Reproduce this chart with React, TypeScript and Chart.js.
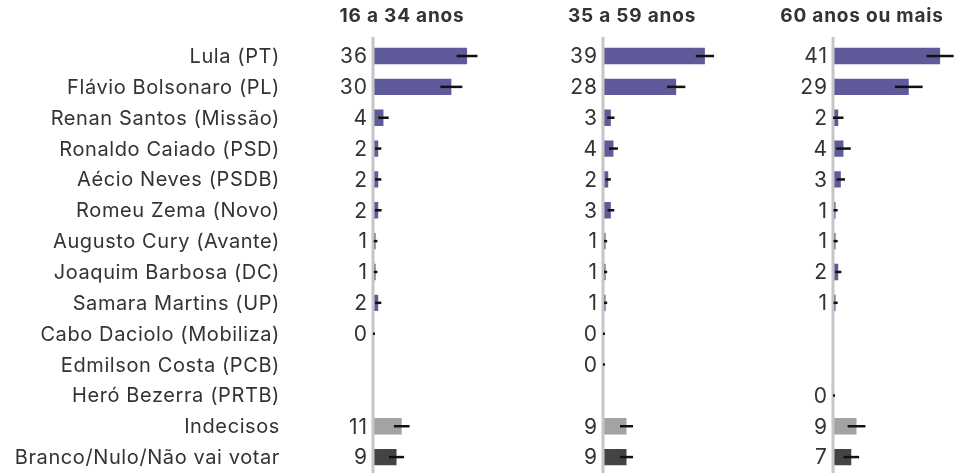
import React, { useEffect, useRef } from "react";
import { Chart, registerables } from "chart.js";

Chart.register(...registerables);

const candidates = [
  "Lula (PT)",
  "Flávio Bolsonaro (PL)",
  "Renan Santos (Missão)",
  "Ronaldo Caiado (PSD)",
  "Aécio Neves (PSDB)",
  "Romeu Zema (Novo)",
  "Augusto Cury (Avante)",
  "Joaquim Barbosa (DC)",
  "Samara Martins (UP)",
  "Cabo Daciolo (Mobiliza)",
  "Edmilson Costa (PCB)",
  "Heró Bezerra (PRTB)",
  "Indecisos",
  "Branco/Nulo/Não vai votar",
];

const panelTitles = ["16 a 34 anos", "35 a 59 anos", "60 anos ou mais"];

const values16to34 = [36, 30, 4, 2, 2, 2, 1, 1, 2, 0, null, null, 11, 9];
const values35to59 = [39, 28, 3, 4, 2, 3, 1, 1, 1, 0, 0, null, 9, 9];
const values60plus = [41, 29, 2, 4, 3, 1, 1, 2, 1, null, null, 0, 9, 7];

const margin16to34 = [4, 4.2, 2, 1.2, 1.2, 1.3, 0.7, 0.7, 1.2, 0.3, null, null, 3, 2.9];
const margin35to59 = [3.5, 3.5, 1.4, 1.7, 1, 1.3, 0.6, 0.6, 0.6, 0.3, 0.3, null, 2.5, 2.5];
const margin60plus = [5.2, 5.3, 2, 2.8, 1.6, 0.8, 0.8, 1.2, 0.8, null, null, 0.4, 3.4, 3];

const X_MAX = 46.7;
const PLOT_WIDTH = 122;
const H = 473;

const FONT = "Inter, 'Noto Sans', sans-serif";
const TEXT = "#333333";

function barColor(i: number) {
  if (i === 12) return "#a3a3a3";
  if (i === 13) return "#444444";
  return "#5f5b9b";
}

type PanelProps = {
  title: string;
  values: (number | null)[];
  margins: (number | null)[];
  left: number;
  zero: number;
  showLabels: boolean;
};

function Panel({ title, values, margins, left, zero, showLabels }: PanelProps) {
  const ref = useRef<HTMLCanvasElement | null>(null);
  const axisWidth = zero - left;
  const width = axisWidth + PLOT_WIDTH;

  useEffect(() => {
    if (!ref.current) return;
    const overlay = {
      id: "overlay",
      afterDatasetsDraw(chart: any) {
        const ctx = chart.ctx;
        const xs = chart.scales.x;
        const ys = chart.scales.y;
        const x0 = xs.getPixelForValue(0);
        ctx.save();
        // zero line
        ctx.strokeStyle = "#c6c6c6";
        ctx.lineWidth = 3;
        ctx.beginPath();
        ctx.moveTo(x0, 37);
        ctx.lineTo(x0, H);
        ctx.stroke();
        // error bars
        ctx.strokeStyle = "#111111";
        ctx.lineWidth = 2.5;
        values.forEach((v, i) => {
          const m = margins[i];
          if (v === null || m === null) return;
          const y = ys.getPixelForValue(i);
          const a = xs.getPixelForValue(Math.max(0, v - m));
          const b = xs.getPixelForValue(v + m);
          ctx.beginPath();
          ctx.moveTo(a, y);
          ctx.lineTo(Math.max(b, a + 2), y);
          ctx.stroke();
        });
        // value labels
        ctx.fillStyle = TEXT;
        ctx.font = `21px ${FONT}`;
        ctx.textAlign = "right";
        ctx.textBaseline = "middle";
        (ctx as any).letterSpacing = "1px";
        values.forEach((v, i) => {
          if (v === null) return;
          const y = ys.getPixelForValue(i);
          ctx.fillText(String(v), x0 - 5, y + 1);
        });
        // category labels
        if (showLabels) {
          ctx.font = `20px ${FONT}`;
          (ctx as any).letterSpacing = "0.6px";
          candidates.forEach((c, i) => {
            const y = ys.getPixelForValue(i);
            ctx.fillText(c, x0 - 93, y + 1);
          });
        }
        // title
        ctx.font = `bold 19px ${FONT}`;
        (ctx as any).letterSpacing = "0.8px";
        ctx.textAlign = "center";
        ctx.fillText(title, x0 + 29, 16);
        ctx.restore();
      },
    };

    const chart = new Chart(ref.current, {
      type: "bar",
      data: {
        labels: candidates,
        datasets: [
          {
            data: values as any,
            backgroundColor: values.map((_, i) => barColor(i)),
            barPercentage: 0.53,
            categoryPercentage: 1,
            borderWidth: 0,
          },
        ],
      },
      options: {
        indexAxis: "y",
        animation: false,
        responsive: false,
        maintainAspectRatio: false,
        devicePixelRatio: 1,
        layout: { padding: { top: 40.6, bottom: 0.5, left: 0, right: 0 } },
        plugins: {
          legend: { display: false },
          tooltip: { enabled: false },
          title: { display: false },
        },
        scales: {
          x: {
            display: false,
            min: 0,
            max: X_MAX,
          },
          y: {
            grid: { display: false },
            border: { display: false },
            afterFit: (scale: any) => {
              scale.width = axisWidth;
            },
            ticks: { display: false, autoSkip: false },
          },
        },
      },
      plugins: [overlay],
    });
    return () => chart.destroy();
  }, [title, values, margins, left, zero, showLabels]);

  return (
    <canvas
      ref={ref}
      width={width}
      height={H}
      style={{ position: "absolute", left, top: 0, width, height: H }}
    />
  );
}

export default function App() {
  return (
    <div
      style={{
        position: "fixed",
        left: 0,
        top: 0,
        width: 955,
        height: H,
        background: "#ffffff",
        overflow: "hidden",
      }}
    >
      <Panel title={panelTitles[0]} values={values16to34} margins={margin16to34} left={0} zero={373} showLabels={true} />
      <Panel title={panelTitles[1]} values={values35to59} margins={margin35to59} left={498} zero={603} showLabels={false} />
      <Panel title={panelTitles[2]} values={values60plus} margins={margin60plus} left={730} zero={833} showLabels={false} />
    </div>
  );
}
